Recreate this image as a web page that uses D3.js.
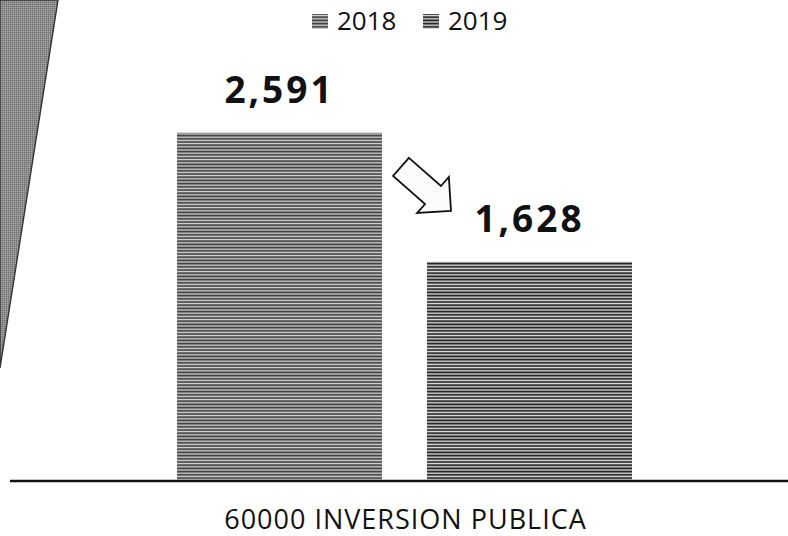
<!DOCTYPE html>
<html>
<head>
<meta charset="utf-8">
<script src="https://cdn.jsdelivr.net/npm/d3@7"></script>
<style>
  body { margin: 0; background: #fff; }
  text { font-family: "Open Sans", "DejaVu Sans", sans-serif; fill: #111; }
</style>
</head>
<body>
<script>
// ! Data
const years = ["2018", "2019"];
const values = [2591, 1628];
const categoryLabel = "60000 INVERSION PUBLICA";

const width = 788;
const height = 536;

const svg = d3
  .select("body")
  .append("svg")
  .attr("width", width)
  .attr("height", height);

// ! Hatch patterns for the bars
const defs = svg.append("defs");
const patterns = [
  { id: "hatch2018", bg: "#d8d8d8", line: "#3e3e3e" },
  { id: "hatch2019", bg: "#e6e6e6", line: "#1e1e1e" },
];
patterns.forEach((p) => {
  const pat = defs
    .append("pattern")
    .attr("id", p.id)
    .attr("patternUnits", "userSpaceOnUse")
    .attr("width", 6)
    .attr("height", 3.2);
  pat.append("rect").attr("width", 6).attr("height", 3.2).attr("fill", p.bg);
  pat
    .append("rect")
    .attr("y", 0.3)
    .attr("width", 6)
    .attr("height", 1.8)
    .attr("fill", p.line);
});
// grainy grey for the wedge on the left
const grain = defs
  .append("pattern")
  .attr("id", "grain")
  .attr("patternUnits", "userSpaceOnUse")
  .attr("width", 2)
  .attr("height", 2);
grain.append("rect").attr("width", 2).attr("height", 2).attr("fill", "#8e8e8e");
grain.append("rect").attr("width", 1).attr("height", 1).attr("fill", "#6e6e6e");
grain.append("rect").attr("x", 1).attr("y", 1).attr("width", 1).attr("height", 1).attr("fill", "#a4a4a4");

// ! Scales
const xScale = d3
  .scaleBand()
  .domain(years)
  .range([177, 632])
  .paddingInner(0.18)
  .paddingOuter(0);

const yScale = d3.scaleLinear().domain([0, 3000]).range([480, 78]);

// ! Grey wedge in the top-left corner (scan artefact of the page)
svg
  .append("path")
  .attr("d", "M0,0 L58,0 L0,368 Z")
  .attr("fill", "url(#grain)")
  .attr("stroke", "#333")
  .attr("stroke-width", 1.4);

// ! Bars
svg
  .selectAll("rect.bar")
  .data(years)
  .enter()
  .append("rect")
  .attr("class", "bar")
  .attr("x", (d) => xScale(d))
  .attr("y", (d, i) => yScale(values[i]))
  .attr("width", xScale.bandwidth())
  .attr("height", (d, i) => yScale(0) - yScale(values[i]))
  .attr("fill", (d) => `url(#hatch${d})`);

// ! Value labels
svg
  .selectAll("text.value")
  .data(years)
  .enter()
  .append("text")
  .attr("class", "value")
  .attr("x", (d) => xScale(d) + xScale.bandwidth() / 2)
  .attr("y", (d, i) => yScale(values[i]) - 30)
  .attr("text-anchor", "middle")
  .style("font-size", "37px")
  .style("font-weight", "700")
  .style("letter-spacing", "3px")
  .text((d, i) => d3.format(",")(values[i]));

// ! Baseline
svg
  .append("line")
  .attr("x1", 10)
  .attr("x2", width)
  .attr("y1", yScale(0) + 1)
  .attr("y2", yScale(0) + 1)
  .attr("stroke", "#111")
  .attr("stroke-width", 2.6);

// ! Category label
svg
  .append("text")
  .attr("x", (xScale.range()[0] + xScale.range()[1]) / 2 + 1)
  .attr("y", 529)
  .attr("text-anchor", "middle")
  .style("font-size", "27px")
  .style("font-weight", "400")
  .style("letter-spacing", "1px")
  .text(categoryLabel);

// ! Arrow between the bars (outline block arrow pointing down-right)
const tail = [xScale(years[0]) + xScale.bandwidth() + 19, yScale(values[0]) + 34];
const tip = [xScale(years[1]) + 24, yScale(values[1]) - 51];
const ang = (Math.atan2(tip[1] - tail[1], tip[0] - tail[0]) * 180) / Math.PI;
const len = Math.hypot(tip[0] - tail[0], tip[1] - tail[1]);
const shaft = len * 0.64;
svg
  .append("path")
  .attr(
    "d",
    `M0,-12 L${shaft},-12 L${shaft},-24 L${len},0 L${shaft},24 L${shaft},12 L0,12 Z`
  )
  .attr("transform", `translate(${tail[0]},${tail[1]}) rotate(${ang})`)
  .attr("fill", "#fbfbfb")
  .attr("stroke", "#111")
  .attr("stroke-width", 1.8)
  .attr("stroke-linejoin", "miter");

// ! Legend
const legend = svg.append("g").attr("transform", "translate(312, 0)");
const legendX = [0, 111];
years.forEach((y, i) => {
  const g = legend.append("g").attr("transform", `translate(${legendX[i]}, 0)`);
  g.append("rect")
    .attr("x", 0)
    .attr("y", 14)
    .attr("width", 16)
    .attr("height", 15)
    .attr("fill", `url(#hatch${y})`);
  g.append("text")
    .attr("x", 25)
    .attr("y", 30)
    .style("font-size", "26px")
    .text(y);
});
</script>
</body>
</html>
